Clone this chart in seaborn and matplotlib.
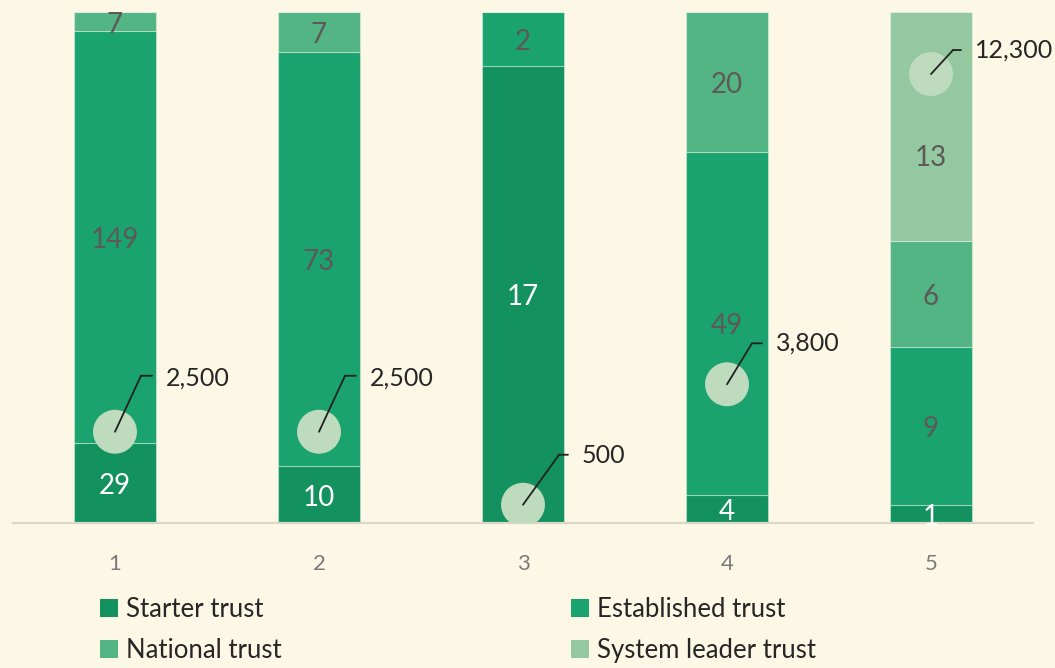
import matplotlib
matplotlib.use("Agg")
import matplotlib.pyplot as plt
from matplotlib.patches import Patch
from matplotlib.transforms import offset_copy
import numpy as np
import seaborn as sns

# ---- data ----
categories = ["1", "2", "3", "4", "5"]
starter = [29, 10, 17, 4, 1]
established = [149, 73, 2, 49, 9]
national = [7, 7, 0, 20, 6]
system_leader = [0, 0, 0, 0, 13]
bubble_values = [2500, 2500, 500, 3800, 12300]
bubble_labels = ["2,500", "2,500", "500", "3,800", "12,300"]
series_names = ["Starter trust", "Established trust", "National trust", "System leader trust"]

# ---- style ----
BG = "#fdf8e6"
colors = ["#13915f", "#1aa36e", "#52b583", "#94c8a0"]
label_colors = ["white", "#5f5858", "#5f5858", "#5f5858"]
# leader offsets (pixels): diagonal end (dx, dy), horizontal length, text (dx, dy)
leader = [((26, 56), 11, (51, 54)),
          ((26, 56), 11, (51, 54)),
          ((36, 50), 9, (59, 49)),
          ((25, 41), 10, (49, 41)),
          ((22, 24), 8, (44, 24))]
# label nudges in pixels (series index, category index) -> dy
label_nudge = {(3, 4): -28}

sns.set_theme(style="white")
plt.rcParams["font.family"] = ["Lato", "DejaVu Sans"]

fig = plt.figure(figsize=(10.55, 6.68), dpi=100, facecolor=BG)
ax = fig.add_axes([13 / 1055, 1 - 523 / 668, 1020 / 1055, 511 / 668])
ax.set_facecolor(BG)

series = [starter, established, national, system_leader]
totals = np.sum(np.array(series, dtype=float), axis=0)
pct = [np.array(s, dtype=float) / totals * 100 for s in series]

bottom = np.zeros(len(categories))
for i, (vals, p) in enumerate(zip(series, pct)):
    sns.barplot(x=categories, y=p, bottom=bottom, color=colors[i], width=0.4,
                saturation=1, edgecolor=(1, 1, 1, 0.35), linewidth=0.8, ax=ax)
    for j in range(len(categories)):
        if vals[j] > 0:
            ndy = label_nudge.get((i, j), 0)
            ax.annotate(str(vals[j]), xy=(j, bottom[j] + p[j] / 2),
                        xytext=(0, ndy - 3), textcoords="offset pixels",
                        ha="center", va="center",
                        fontsize=20, color=label_colors[i], zorder=5)
    bottom = bottom + p

ax.set_xlim(-0.5, len(categories) - 0.5)
ax.set_ylim(0, 100)
ax.set_yticks([])
ax.set_xlabel("")
ax.set_ylabel("")
for s in ["top", "left", "right"]:
    ax.spines[s].set_visible(False)
ax.spines["bottom"].set_color("#dcd8c8")
ax.spines["bottom"].set_linewidth(1.6)
ax.tick_params(axis="x", length=0, pad=22, labelsize=16, labelcolor="#7a7a7a")

# secondary axis with bubbles
ax2 = ax.twinx()
ax2.set_ylim(0, 14000)
ax2.axis("off")
xs = np.arange(len(categories))
sns.scatterplot(x=xs, y=bubble_values, s=1000, color="#bedbbe", edgecolor="none",
                alpha=1, ax=ax2, zorder=6, legend=False)
ax2.set_xlim(-0.5, len(categories) - 0.5)

for j, (val, lab) in enumerate(zip(bubble_values, bubble_labels)):
    (ddx, ddy), hl, (tdx, tdy) = leader[j]
    ax2.annotate("", xy=(j, val), xytext=(ddx, ddy), textcoords="offset pixels",
                 arrowprops=dict(arrowstyle="-", color="#222222", lw=1.3,
                                 shrinkA=0, shrinkB=0), zorder=7)
    ax2.annotate("", xy=(j, val), xycoords=offset_copy(ax2.transData, fig=fig, x=ddx, y=ddy, units="dots"),
                 xytext=(hl, 0), textcoords="offset pixels",
                 arrowprops=dict(arrowstyle="-", color="#222222", lw=1.3,
                                 shrinkA=0, shrinkB=0), zorder=7)
    ax2.annotate(lab, xy=(j, val), xytext=(tdx, tdy), textcoords="offset pixels",
                 ha="left", va="center", fontsize=18, color="#262626", zorder=7)

# legends
handles = [Patch(facecolor=c, edgecolor="none") for c in colors]
common = dict(frameon=False, fontsize=18.5, handlelength=0.7, handleheight=0.7,
              handletextpad=0.3, labelspacing=0.62, borderaxespad=0, borderpad=0,
              labelcolor="#262626")
leg1 = fig.legend([handles[0], handles[2]], [series_names[0], series_names[2]],
                  loc="upper left", bbox_to_anchor=(100 / 1055, 1 - 597 / 668), **common)
leg2 = fig.legend([handles[1], handles[3]], [series_names[1], series_names[3]],
                  loc="upper left", bbox_to_anchor=(571 / 1055, 1 - 597 / 668), **common)

fig.savefig("out.png", dpi=100, facecolor=BG)
